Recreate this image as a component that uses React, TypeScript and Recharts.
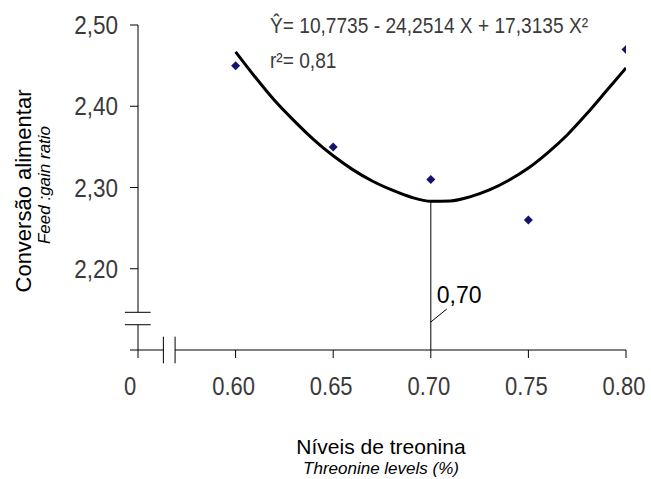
import React from "react";
import { ComposedChart, Line, Scatter, XAxis, YAxis, ReferenceLine, ReferenceDot } from "recharts";

// threonine levels and observed feed:gain
const levels = [0.6, 0.65, 0.7, 0.75, 0.8];
const ratio = [2.45, 2.35, 2.31, 2.26, 2.47];

// fitted curve as drawn
const fitX = [0.6, 0.61, 0.62, 0.63, 0.64, 0.65, 0.66, 0.67, 0.68, 0.69, 0.7, 0.71, 0.72, 0.73, 0.74, 0.75, 0.76, 0.77, 0.78, 0.79, 0.8];
const fitY = [2.467, 2.436, 2.407, 2.382, 2.359, 2.339, 2.322, 2.308, 2.297, 2.288, 2.283, 2.2835, 2.2885, 2.297, 2.309, 2.324, 2.343, 2.365, 2.391, 2.419, 2.447];

const optimumX = 0.7;
const optimumY = 2.283;
const optimumLabel = "0,70";

const xTicks = [0.55, 0.6, 0.65, 0.7, 0.75, 0.8];
const xTickLabels = ["0", "0.60", "0.65", "0.70", "0.75", "0.80"];
const yTicks = [2.1, 2.2, 2.3, 2.4, 2.5];
const yTickLabels = ["", "2,20", "2,30", "2,40", "2,50"];

const points = levels.map((x, i) => ({ x, y: ratio[i] }));
const curve = fitX.map((x, i) => ({ x, y: fitY[i] }));

const sans = "'Liberation Sans', Arial, sans-serif";

// the original tick font is a thin condensed one, so squeeze Liberation Sans a bit
const XTick = (props: any) => {
  const { x, y, payload } = props;
  const i = xTicks.indexOf(payload.value);
  const dx = i === 0 ? -8 : -2;
  return (
    <g transform={`translate(${x + dx},${y + 17}) scale(0.88,1)`}>
      <text x={0} y={0} textAnchor="middle" fontFamily={sans} fontSize={25} fill="#3a3a3a">
        {xTickLabels[i]}
      </text>
    </g>
  );
};

const YTick = (props: any) => {
  const { x, y, payload } = props;
  const i = yTicks.indexOf(payload.value);
  return (
    <g transform={`translate(${x},${y + 9}) scale(0.9,1)`}>
      <text x={0} y={0} textAnchor="end" fontFamily={sans} fontSize={25} fill="#3a3a3a">
        {yTickLabels[i]}
      </text>
    </g>
  );
};

const Diamond = (props: any) => {
  const { cx, cy } = props;
  const r = 4.5;
  return <polygon points={`${cx},${cy - r} ${cx + r},${cy} ${cx},${cy + r} ${cx - r},${cy}`} fill="#14146e" />;
};

const OptimumMark = (props: any) => {
  const { cx, cy } = props;
  return (
    <g>
      <line x1={cx} y1={cy - 28} x2={cx + 16} y2={cy - 41} stroke="#000" strokeWidth={1} />
      <text x={cx + 6} y={cy - 47} fontFamily={sans} fontSize={23} fill="#000">
        {optimumLabel}
      </text>
    </g>
  );
};

const axisStroke = { stroke: "#000", strokeWidth: 1, ifOverflow: "visible" as const };

export default function App() {
  return (
    <div style={{ position: "absolute", left: 0, top: 0, width: 651, height: 479, background: "#fff" }}>
      <ComposedChart width={651} height={479} margin={{ top: 25, right: 25, bottom: 89, left: 78 }}>
        <XAxis
          type="number"
          dataKey="x"
          domain={[0.55, 0.8]}
          ticks={xTicks}
          axisLine={false}
          tickLine={{ stroke: "#000" }}
          tickSize={8}
          tickMargin={20}
          height={40}
          tick={XTick}
          allowDataOverflow
        />
        <YAxis
          type="number"
          domain={[2.1, 2.5]}
          ticks={yTicks}
          axisLine={false}
          tickLine={{ stroke: "#000" }}
          tickSize={8}
          tickMargin={12}
          width={60}
          tick={YTick}
          allowDataOverflow
        />
        {/* broken x axis */}
        <ReferenceLine segment={[{ x: 0.55, y: 2.1 }, { x: 0.563, y: 2.1 }]} {...axisStroke} />
        <ReferenceLine segment={[{ x: 0.569, y: 2.1 }, { x: 0.8, y: 2.1 }]} {...axisStroke} />
        <ReferenceLine segment={[{ x: 0.563, y: 2.1164 }, { x: 0.563, y: 2.0836 }]} {...axisStroke} />
        <ReferenceLine segment={[{ x: 0.569, y: 2.1164 }, { x: 0.569, y: 2.0836 }]} {...axisStroke} />
        {/* broken y axis */}
        <ReferenceLine segment={[{ x: 0.55, y: 2.5 }, { x: 0.55, y: 2.1464 }]} {...axisStroke} />
        <ReferenceLine segment={[{ x: 0.55, y: 2.1311 }, { x: 0.55, y: 2.1 }]} {...axisStroke} />
        <ReferenceLine segment={[{ x: 0.5433, y: 2.1464 }, { x: 0.5565, y: 2.1464 }]} {...axisStroke} />
        <ReferenceLine segment={[{ x: 0.5433, y: 2.1311 }, { x: 0.5565, y: 2.1311 }]} {...axisStroke} />
        {/* optimum */}
        <ReferenceLine segment={[{ x: optimumX, y: optimumY }, { x: optimumX, y: 2.1 }]} stroke="#000" strokeWidth={1} />
        <ReferenceDot x={optimumX} y={2.1} r={0} shape={OptimumMark} />
        <Line data={curve} dataKey="y" type="monotone" stroke="#000" strokeWidth={3} dot={false} isAnimationActive={false} />
        <Scatter data={points} dataKey="y" shape={Diamond} isAnimationActive={false} />
      </ComposedChart>
      <svg width={651} height={479} style={{ position: "absolute", left: 0, top: 0, pointerEvents: "none" }}>
        <g transform="translate(270,33) scale(0.87,1)">
          <text x={0} y={0} fontFamily={sans} fontSize={22} fill="#3a3a3a">
            Ŷ= 10,7735 - 24,2514 X + 17,3135 X²
          </text>
        </g>
        <g transform="translate(270,68) scale(0.87,1)">
          <text x={0} y={0} fontFamily={sans} fontSize={22} fill="#3a3a3a">
            r²= 0,81
          </text>
        </g>
        <text x={31} y={191} transform="rotate(-90 31 191)" textAnchor="middle" fontFamily={sans} fontSize={22} fill="#000">
          Conversão alimentar
        </text>
        <text x={50} y={185} transform="rotate(-90 50 185)" textAnchor="middle" fontFamily={sans} fontStyle="italic" fontSize={17} fill="#000">
          Feed :gain ratio
        </text>
        <text x={381} y={454} textAnchor="middle" fontFamily={sans} fontSize={21} fill="#000">
          Níveis de treonina
        </text>
        <text x={381} y={474} textAnchor="middle" fontFamily={sans} fontStyle="italic" fontSize={17} fill="#000">
          Threonine levels (%)
        </text>
      </svg>
    </div>
  );
}
